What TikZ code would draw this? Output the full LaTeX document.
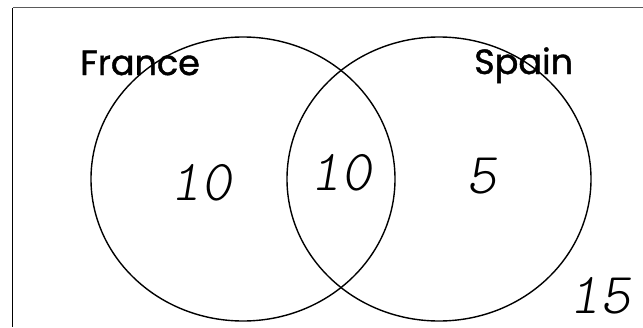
\documentclass[tikz,border=0pt]{standalone}
\usepackage{fontspec}
\usepackage{tikz}
\usetikzlibrary{shapes.geometric}
\newfontfamily\labelfont[FakeBold=1.2]{Poppins}
\newfontfamily\handfont{lmmonolt10-oblique.otf}
\definecolor{framecol}{RGB}{90,90,90}

\begin{document}
\begin{tikzpicture}[x=1pt, y=-1pt,
    setring/.style={
        ellipse,
        draw=black,
        line width=1.4pt,
        minimum width=304pt,
        minimum height=284pt,
        inner sep=0pt
    },
    setname/.style={
        anchor=base west,
        inner sep=0pt,
        font=\labelfont\fontsize{35}{35}\selectfont
    },
    count/.style={
        anchor=base,
        inner sep=0pt,
        font=\handfont\fontsize{58}{58}\selectfont
    }
]
\useasboundingbox (0,0) rectangle (643,327);

% Frame
\coordinate (topright) at (643,7.5);
\coordinate (corner) at (12.5,7.5);
\coordinate (bottomleft) at (12.5,327);
\draw[framecol, line width=1pt] (topright) -- (corner);
\draw[black, line width=1.5pt] (corner) -- (bottomleft);

% Sets
\node[setring] (france) at (243,179) {};
\node[setring] (spain) at (439,179) {};

% Set names
\node[setname] (francename) at (80,75) {France};
\node[setname] (spainname) at (474,74) {Spain};

% Counts
\node[count] (onlyfrance) at (201,200) {10};
\node[count] (both) at (341,190) {10};
\node[count] (onlyspain) at (482,193) {5};
\node[count] (neither) at (600,313) {15};

\end{tikzpicture}
\end{document}
